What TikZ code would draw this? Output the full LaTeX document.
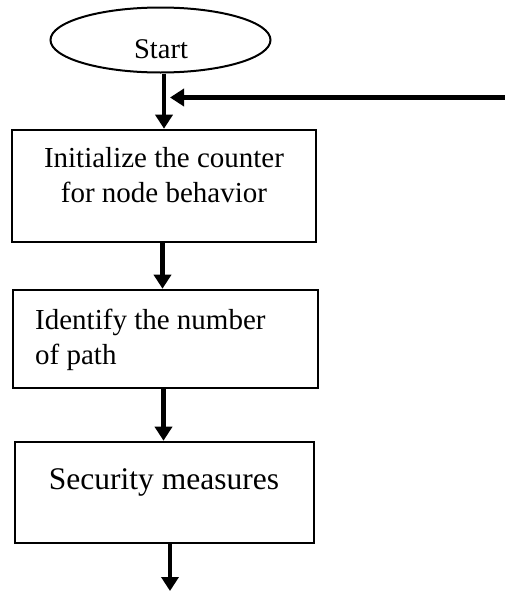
\documentclass[tikz,border=0pt]{standalone}
\usepackage{fontspec}
\setmainfont{Liberation Serif}
\usetikzlibrary{arrows.meta,shapes.geometric}
\begin{document}
\begin{tikzpicture}[x=1pt,y=-1pt,
  frame/.style={draw, line width=2.6pt, rectangle, inner sep=0pt},
  oval/.style={draw, line width=2pt, ellipse, inner sep=0pt,
               minimum width=220pt, minimum height=65pt},
  boxtext/.style={inner sep=0pt, font=\fontsize{29}{35}\selectfont},
  flow/.style={line width=4.5pt, -{Triangle[length=14pt,width=17pt]}},
]
\useasboundingbox (0,0) rectangle (505,592);

% terminator
\node[oval] (start) at (160.5,40) {};
\node[inner sep=0pt, anchor=base, font=\fontsize{28.5}{34}\selectfont]
  (starttxt) at (161,58.3) {Start};

% process boxes
\node[frame, minimum width=304pt, minimum height=112pt] (b1) at (164,186) {};
\node[boxtext, align=center, anchor=north] (t1) at (164,147)
  {Initialize the counter\\for node behavior};

\node[frame, minimum width=305pt, minimum height=98pt] (b2) at (165.5,339) {};
\node[boxtext, align=left, anchor=north west] (t2) at (35,309)
  {Identify the number\\of path};

\node[frame, minimum width=299pt, minimum height=101pt] (b3) at (164.5,492.5) {};
\node[inner sep=0pt, anchor=base, font=\fontsize{31.5}{38}\selectfont]
  (t3) at (164,489.5) {Security measures};

% free ends of the loop-back and the exit
\coordinate (fbin) at (505,97.5);
\coordinate (exit) at (170,591);

% connectors
\draw[flow] (b1.north |- start.south) -- (b1.north);
\draw[flow] (fbin) -- ([xshift=6pt]b1.north |- fbin);
\draw[flow] (b1.south -| 162.5,0) -- (162.5,0 |- b2.north);
\draw[flow] (b2.south -| 163.5,0) -- (163.5,0 |- b3.north);
\draw[flow] (b3.south -| exit) -- (exit);
\end{tikzpicture}
\end{document}
